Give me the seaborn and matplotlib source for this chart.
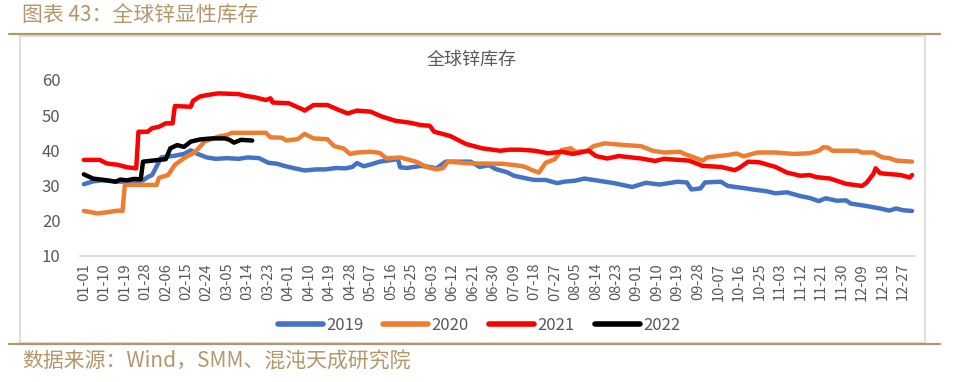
import pandas as pd
import matplotlib
matplotlib.use("Agg")
import matplotlib.pyplot as plt
from matplotlib.lines import Line2D
from matplotlib.patches import Rectangle
import seaborn as sns

# 数据（按年内天数序号读取）
days_2019 = [0, 4, 8, 14, 20, 26, 28, 30, 32, 34, 40, 44, 47, 50, 54, 58, 63, 68, 72, 77,
             81, 85, 88, 92, 97, 102, 106, 111, 115, 118, 120, 123, 126, 130, 136, 138, 139, 142, 148, 152,
             155, 159, 163, 170, 174, 178, 181, 186, 189, 194, 198, 203, 208, 211, 216, 220, 226, 233, 241, 247,
             253, 261, 265, 267, 271, 273, 280, 283, 290, 294, 300, 304, 309, 315, 319, 323, 326, 331, 335, 337,
             344, 350, 354, 357, 360, 364]
vals_2019 = [30.4, 31.2, 31.5, 31.2, 31.0, 31.5, 32.4, 33.0, 35.5, 38.0, 38.5, 39.0, 40.0, 39.0, 38.0, 37.6, 37.8, 37.6, 38.0, 37.8,
             36.5, 36.2, 35.6, 35.0, 34.3, 34.6, 34.6, 35.0, 34.9, 35.3, 36.4, 35.5, 36.0, 36.8, 37.3, 37.6, 35.2, 35.0, 35.6, 35.3,
             34.9, 36.8, 36.8, 36.8, 35.3, 35.8, 34.7, 33.8, 32.8, 32.1, 31.6, 31.6, 30.7, 31.1, 31.4, 32.0, 31.4, 30.7, 29.6, 30.8,
             30.3, 31.1, 30.9, 28.9, 29.2, 30.9, 31.1, 29.9, 29.3, 28.9, 28.4, 27.8, 28.1, 27.0, 26.5, 25.6, 26.4, 25.7, 25.8, 24.9,
             24.2, 23.5, 22.9, 23.5, 23.0, 22.8]

days_2020 = [0, 6, 10, 15, 17, 18, 32, 33, 37, 40, 44, 49, 53, 59, 63, 65, 71, 80, 82, 87,
             89, 94, 97, 101, 107, 110, 114, 117, 120, 126, 130, 133, 139, 146, 151, 155, 158, 160, 170, 184,
             192, 194, 197, 200, 203, 207, 210, 214, 216, 221, 224, 229, 238, 245, 250, 255, 262, 264, 272, 274,
             283, 287, 290, 296, 304, 312, 319, 323, 325, 327, 329, 340, 342, 347, 351, 354, 357, 364]
vals_2020 = [22.8, 22.1, 22.4, 22.9, 22.8, 30.2, 30.2, 32.2, 33.0, 35.9, 37.8, 39.6, 42.5, 43.9, 44.4, 45.0, 45.0, 45.0, 43.7, 43.6,
             42.8, 43.2, 44.7, 43.4, 43.2, 41.2, 40.6, 39.0, 39.4, 39.6, 39.3, 37.7, 38.0, 36.8, 35.2, 34.6, 35.0, 36.8, 36.3, 36.2,
             35.6, 35.3, 34.4, 33.7, 36.5, 37.5, 40.1, 40.6, 39.6, 39.8, 41.2, 42.0, 41.5, 41.2, 39.9, 39.4, 39.6, 39.0, 37.1, 38.0,
             38.7, 39.1, 38.3, 39.4, 39.4, 39.0, 39.2, 39.9, 40.9, 40.8, 39.9, 39.9, 39.4, 39.4, 38.0, 37.8, 37.1, 36.8]

days_2021 = [0, 7, 10, 15, 19, 23, 24, 28, 30, 33, 36, 39, 40, 47, 48, 51, 54, 59, 68, 71,
             75, 80, 82, 83, 90, 96, 97, 101, 107, 112, 116, 120, 126, 131, 137, 143, 148, 152, 154, 161,
             164, 168, 175, 183, 187, 192, 198, 204, 210, 215, 222, 225, 230, 235, 245, 251, 255, 266, 272, 280,
             286, 288, 292, 297, 304, 309, 315, 319, 322, 328, 335, 342, 344, 347, 348, 350, 359, 363, 364]
vals_2021 = [37.3, 37.3, 36.3, 35.9, 35.2, 34.9, 45.3, 45.3, 46.3, 46.7, 47.7, 47.7, 52.6, 52.4, 54.1, 55.3, 55.7, 56.2, 56.0, 55.5,
             55.1, 54.3, 54.8, 53.6, 53.4, 51.7, 51.3, 52.9, 52.9, 51.5, 50.5, 51.3, 51.0, 49.6, 48.4, 47.9, 47.2, 47.0, 45.3, 44.1,
             43.1, 41.8, 40.6, 39.9, 40.2, 40.2, 39.9, 39.2, 39.6, 39.0, 39.9, 38.4, 37.7, 38.4, 37.7, 37.0, 37.6, 37.1, 35.6, 35.3,
             34.4, 35.0, 36.8, 36.6, 35.3, 33.7, 32.8, 33.0, 32.4, 32.0, 30.5, 29.9, 30.8, 33.3, 34.9, 33.5, 33.0, 32.3, 33.0]

days_2022 = [0, 4, 9, 14, 16, 19, 22, 25, 26, 33, 36, 38, 41, 44, 47, 51, 56, 62, 64, 66, 69, 74]
vals_2022 = [33.2, 32.0, 31.6, 31.1, 31.7, 31.5, 31.9, 31.8, 36.8, 37.3, 37.5, 40.6, 41.5, 41.0, 42.5, 43.1, 43.4, 43.4, 43.0, 42.2,
             43.0, 42.8]

years = ["2019", "2020", "2021", "2022"]
colors = ["#4472C4", "#ED7D31", "#FF0000", "#000000"]

tick_labels = ["01-01", "01-10", "01-19", "01-28", "02-06", "02-15", "02-24", "03-05", "03-14", "03-23",
               "04-01", "04-10", "04-19", "04-28", "05-07", "05-16", "05-25", "06-03", "06-12", "06-21",
               "06-30", "07-09", "07-18", "07-27", "08-05", "08-14", "08-23", "09-01", "09-10", "09-19",
               "09-28", "10-07", "10-16", "10-25", "11-03", "11-12", "11-21", "11-30", "12-09", "12-18",
               "12-27"]

frames = []
for y, d, v in zip(years, [days_2019, days_2020, days_2021, days_2022],
                   [vals_2019, vals_2020, vals_2021, vals_2022]):
    frames.append(pd.DataFrame({"day": d, "value": v, "year": y}))
df = pd.concat(frames, ignore_index=True)

sns.set_theme(style="white")
plt.rcParams['font.family'] = ['Noto Sans CJK SC', 'DejaVu Sans']

W, H = 954, 382
fig = plt.figure(figsize=(W / 100, H / 100), dpi=100)

brown = "#B4966A"
gray_txt = "#595959"

# 外框和分隔线
fig.add_artist(Rectangle((20 / W, 1 - 343 / H), 905 / W, 307 / H, transform=fig.transFigure,
                         fill=False, edgecolor="#D9D9D9", linewidth=1.2))
fig.add_artist(Line2D([9 / W, 940 / W], [1 - 34 / H, 1 - 34 / H], color=brown, linewidth=1.6))
fig.add_artist(Line2D([9 / W, 940 / W], [1 - 344 / H, 1 - 344 / H], color=brown, linewidth=1.6))

fig.text(22 / W, 1 - 16 / H, "图表 43：全球锌显性库存", color=brown, fontsize=15, va="center", ha="left")
fig.text(22 / W, 1 - 362 / H, "数据来源：Wind，SMM、混沌天成研究院", color=brown, fontsize=15, va="center", ha="left")
fig.text(472 / W, 1 - 60 / H, "全球锌库存", color=gray_txt, fontsize=13, va="center", ha="center")

ax = fig.add_axes([80 / W, 1 - 256 / H, 835 / W, 176 / H])
sns.lineplot(data=df, x="day", y="value", hue="year", palette=colors, hue_order=years,
             estimator=None, sort=False, linewidth=3.2, ax=ax, legend=False)

ax.set_xlim(-1.7, 365.3)
ax.set_ylim(10, 60)
ax.set_yticks([10, 20, 30, 40, 50, 60])
ax.set_xticks(range(0, 9 * len(tick_labels), 9))
ax.set_xticklabels(tick_labels, rotation=90)
ax.tick_params(axis="x", length=0, pad=5, labelsize=10.5, labelcolor=gray_txt)
ax.tick_params(axis="y", length=0, pad=14, labelsize=12, labelcolor=gray_txt)
ax.set_xlabel("")
ax.set_ylabel("")
for s in ["top", "right", "left"]:
    ax.spines[s].set_visible(False)
ax.spines["bottom"].set_color("#D9D9D9")
ax.spines["bottom"].set_linewidth(1.2)

handles = [Line2D([0], [0], color=c, linewidth=4, solid_capstyle="round") for c in colors]
fig.legend(handles, years, loc="center", bbox_to_anchor=(479 / W, 1 - 325 / H), ncol=4,
           frameon=False, fontsize=12, labelcolor=gray_txt, handlelength=2.7,
           handletextpad=0.2, columnspacing=1.2)

fig.savefig("out.png", dpi=100)
